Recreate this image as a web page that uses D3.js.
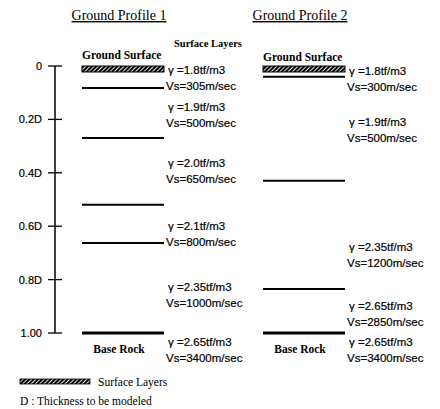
<!DOCTYPE html>
<html lang="en">
<head>
    <meta charset="UTF-8">
    <title>Ground Profiles</title>
    <script src="https://d3js.org/d3.v7.min.js"></script>
    <style>
        body {
            margin: 0;
            background: white;
        }
        .serif {
            font-family: "Liberation Serif", "Times New Roman", serif;
        }
        .sans {
            font-family: "Liberation Sans", Arial, sans-serif;
        }
    </style>
</head>
<body>
<svg id="viz"></svg>
<script>
    var profiles = ["Ground Profile 1", "Ground Profile 2"];

    // depth ticks (fraction of D)
    var tickValues = [0, 0.2, 0.4, 0.6, 0.8, 1.0];
    var tickLabels = ["0", "0.2D", "0.4D", "0.6D", "0.8D", "1.00"];

    // layer boundaries below the surface (fraction of D)
    var bounds1 = [0.082, 0.27, 0.52, 0.663, 1.0];
    var bounds2 = [0.04, 0.43, 0.835, 1.0];

    // layer properties
    var gamma1 = ["1.8", "1.9", "2.0", "2.1", "2.35", "2.65"];
    var vs1 = [305, 500, 650, 800, 1000, 3400];
    var labelDepth1 = [0.015, 0.154, 0.363, 0.6, 0.828, 1.034];

    var gamma2 = ["1.8", "1.9", "2.35", "2.65", "2.65"];
    var vs2 = [300, 500, 1200, 2850, 3400];
    var labelDepth2 = [0.019, 0.21, 0.678, 0.899, 1.034];

    var width = 440, height = 409;

    var svg = d3.select("#viz")
        .attr("width", width)
        .attr("height", height);

    var defs = svg.append("defs");
    var pat = defs.append("pattern")
        .attr("id", "hatch")
        .attr("patternUnits", "userSpaceOnUse")
        .attr("width", 3)
        .attr("height", 3)
        .attr("patternTransform", "rotate(45)");
    pat.append("rect").attr("width", 3).attr("height", 3).attr("fill", "white");
    pat.append("line")
        .attr("x1", 1).attr("y1", 0).attr("x2", 1).attr("y2", 3)
        .attr("stroke", "black").attr("stroke-width", 2.2);

    var yScale = d3.scaleLinear()
        .domain([0, 1])
        .range([66, 333]);

    var xScale = d3.scaleBand()
        .domain(profiles)
        .range([82, 345])
        .paddingInner(0.547);

    // depth axis
    var yAxis = d3.axisLeft(yScale)
        .tickValues(tickValues)
        .tickFormat(function (d, i) { return tickLabels[i]; })
        .tickSize(0);

    var axisG = svg.append("g")
        .attr("transform", "translate(55,0)")
        .call(yAxis);
    axisG.select(".domain").remove();
    axisG.selectAll(".tick line").remove();
    axisG.selectAll(".tick text")
        .attr("class", "sans")
        .attr("x", -13)
        .attr("font-size", 11)
        .attr("fill", "black")
        .attr("stroke", "black")
        .attr("stroke-width", 0.2);

    axisG.append("line")
        .attr("x1", 0).attr("x2", 0)
        .attr("y1", yScale(0)).attr("y2", yScale(1))
        .attr("stroke", "black").attr("stroke-width", 1.5);
    axisG.selectAll(".tickmark")
        .data(tickValues)
        .enter()
        .append("line")
        .attr("x1", -7).attr("x2", 7)
        .attr("y1", function (d) { return yScale(d); })
        .attr("y2", function (d) { return yScale(d); })
        .attr("stroke", "black").attr("stroke-width", 1.3);

    // titles
    svg.selectAll(".title")
        .data(profiles)
        .enter()
        .append("text")
        .attr("class", "serif")
        .attr("x", function (d) { return xScale(d) + xScale.bandwidth() / 2 - 4; })
        .attr("y", 20)
        .attr("text-anchor", "middle")
        .attr("font-size", 14)
        .style("text-decoration", "underline")
        .text(function (d) { return d; });

    svg.append("text")
        .attr("class", "serif")
        .attr("x", 174)
        .attr("y", 47)
        .attr("font-size", 10.5)
        .attr("font-weight", "bold")
        .text("Surface Layers");

    function drawProfile(name, bounds, gammas, vss, labelDepths, groundY) {
        var x0 = xScale(name);
        var bw = xScale.bandwidth();
        var g = svg.append("g");

        g.append("text")
            .attr("class", "serif")
            .attr("x", x0)
            .attr("y", groundY)
            .attr("font-size", 11.5)
            .attr("font-weight", "bold")
            .text("Ground Surface");

        // hatched surface layer
        g.append("rect")
            .attr("x", x0)
            .attr("y", yScale(0))
            .attr("width", bw)
            .attr("height", 6)
            .attr("fill", "url(#hatch)")
            .attr("stroke", "black")
            .attr("stroke-width", 1);

        g.selectAll(".bound")
            .data(bounds)
            .enter()
            .append("line")
            .attr("x1", x0)
            .attr("x2", x0 + bw)
            .attr("y1", function (d) { return yScale(d); })
            .attr("y2", function (d) { return yScale(d); })
            .attr("stroke", "black")
            .attr("stroke-width", function (d) { return d === 1 ? 3 : 2; });

        g.append("text")
            .attr("class", "serif")
            .attr("x", x0 + bw / 2 - 4)
            .attr("y", yScale(1) + 20)
            .attr("text-anchor", "middle")
            .attr("font-size", 11.5)
            .attr("font-weight", "bold")
            .text("Base Rock");

        var labels = g.selectAll(".lab")
            .data(gammas)
            .enter()
            .append("g")
            .attr("transform", function (d, i) {
                return "translate(" + (x0 + bw + 2) + "," + yScale(labelDepths[i]) + ")";
            });
        labels.append("text")
            .attr("class", "sans")
            .attr("x", 2)
            .attr("y", 4)
            .attr("font-size", 11.5)
            .attr("stroke", "black")
            .attr("stroke-width", 0.2)
            .text(function (d) { return "\u03b3 =" + d + "tf/m3"; });
        labels.append("text")
            .attr("class", "sans")
            .attr("x", 0)
            .attr("y", 20)
            .attr("font-size", 11.5)
            .attr("stroke", "black")
            .attr("stroke-width", 0.2)
            .text(function (d, i) { return "Vs=" + vss[i] + "m/sec"; });
    }

    drawProfile(profiles[0], bounds1, gamma1, vs1, labelDepth1, 59);
    drawProfile(profiles[1], bounds2, gamma2, vs2, labelDepth2, 61);

    // legend
    svg.append("rect")
        .attr("x", 20)
        .attr("y", 379)
        .attr("width", 70)
        .attr("height", 5)
        .attr("fill", "url(#hatch)")
        .attr("stroke", "black")
        .attr("stroke-width", 0.8);
    svg.append("text")
        .attr("class", "serif")
        .attr("x", 98)
        .attr("y", 386)
        .attr("font-size", 11.5)
        .text("Surface Layers");
    svg.append("text")
        .attr("class", "serif")
        .attr("x", 20)
        .attr("y", 405)
        .attr("font-size", 11.5)
        .text("D : Thickness to be modeled");
</script>
</body>
</html>
